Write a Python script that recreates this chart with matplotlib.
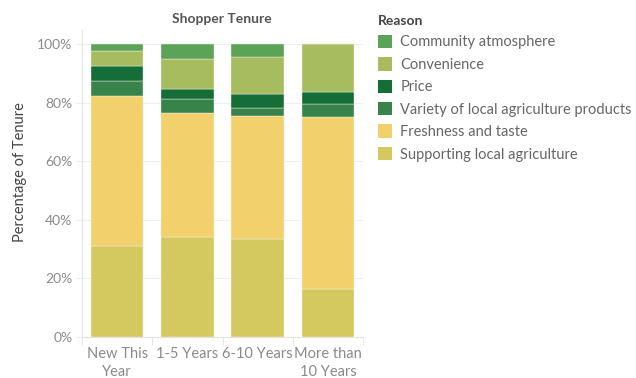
import matplotlib.pyplot as plt
from matplotlib.patches import Patch
from matplotlib.ticker import FixedLocator, PercentFormatter
import numpy as np

plt.rcParams['font.family'] = ['Lato', 'DejaVu Sans']

tenure = ['New This\nYear', '1-5 Years', '6-10 Years', 'More than\n10 Years']

# share of shoppers (%) per reason, listed bottom-to-top of each stack
supporting = [30.9, 34.0, 33.6, 16.5]
freshness = [51.3, 42.3, 41.8, 58.7]
variety = [5.2, 5.1, 2.9, 4.3]
price = [5.2, 3.2, 4.6, 4.3]
convenience = [4.9, 10.4, 12.8, 16.2]
community = [2.5, 5.0, 4.3, 0.0]

reasons = ['Supporting local agriculture', 'Freshness and taste',
           'Variety of local agriculture products', 'Price',
           'Convenience', 'Community atmosphere']
series = [supporting, freshness, variety, price, convenience, community]
colors = ['#d4c95f', '#f2d06b', '#37834a', '#156e38', '#a6bc5e', '#5ba356']

fig = plt.figure(figsize=(6.36, 3.78), dpi=100)
ax = fig.add_axes([82 / 636, 1 - 337 / 378, 281 / 636, 307 / 378])

x = np.arange(len(tenure))
bottom = np.zeros(len(tenure))
for vals, col in zip(series, colors):
    ax.bar(x, vals, width=0.75, bottom=bottom, color=col,
           edgecolor='#f4f4ee', linewidth=0.3, zorder=3)
    bottom += np.array(vals)

ax.set_xlim(-0.5, 3.5)
ax.set_ylim(0, 104.8)
ax.set_yticks([0, 20, 40, 60, 80, 100])
ax.yaxis.set_major_formatter(PercentFormatter(decimals=0))
ax.grid(axis='y', color='#efefef', linewidth=0.8, zorder=0)

ax.set_xticks(x)
ax.set_xticklabels(tenure, linespacing=1.35)
ax.xaxis.set_minor_locator(FixedLocator([-0.5, 0.5, 1.5, 2.5, 3.5]))
ax.tick_params(axis='x', which='major', length=0, pad=7,
               labelsize=10.5, labelcolor='#8a8a8a')
ax.tick_params(axis='x', which='minor', length=6, color='#e2e2e2')
ax.tick_params(axis='y', length=4, color='#efefef', pad=3,
               labelsize=10, labelcolor='#8a8a8a')

for side in ['top', 'right']:
    ax.spines[side].set_visible(False)
for side in ['left', 'bottom']:
    ax.spines[side].set_color('#e2e2e2')
    ax.spines[side].set_linewidth(0.8)

fig.text(222 / 636, 1 - 19 / 378, 'Shopper Tenure', ha='center', va='center',
         fontsize=10, fontweight='bold', color='#555555')
fig.text(20 / 636, 1 - 172 / 378, 'Percentage of Tenure', rotation=90,
         ha='center', va='center', fontsize=10.5, color='#444444')

handles = [Patch(facecolor=c, edgecolor='none') for c in colors[::-1]]
leg = fig.legend(handles, reasons[::-1], title='Reason',
                 loc='upper left', bbox_to_anchor=(372 / 636, 1 - 9 / 378),
                 frameon=False, fontsize=10.5, title_fontsize=10,
                 handlelength=0.95, handleheight=1.05, handletextpad=0.6,
                 labelspacing=0.53, alignment='left', borderaxespad=0)
leg.get_title().set_fontweight('bold')
leg.get_title().set_color('#444444')
for t in leg.get_texts():
    t.set_color('#666666')

fig.savefig('out.png', dpi=100)
